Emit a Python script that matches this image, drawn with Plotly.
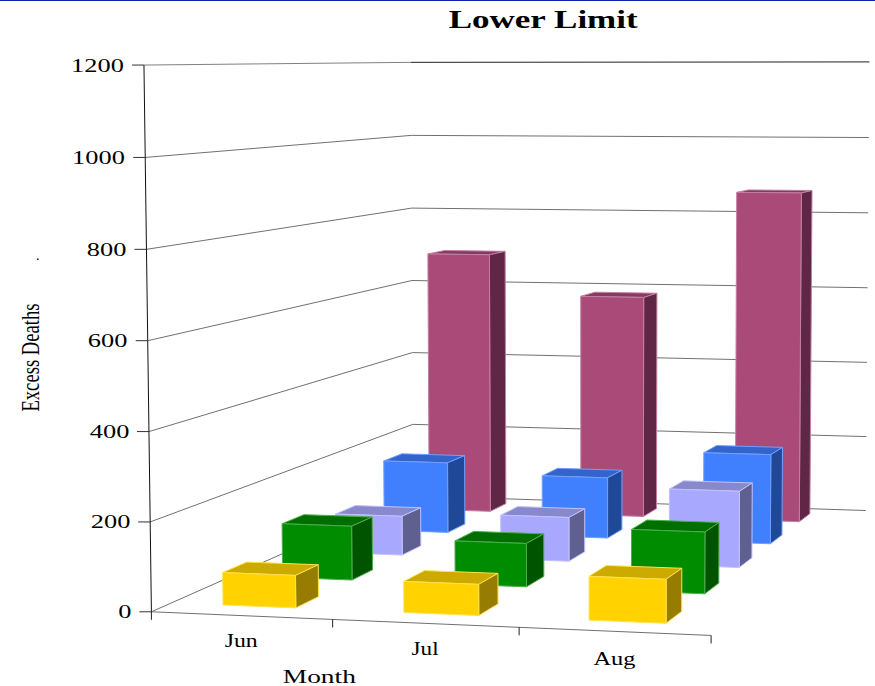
import json

import numpy as np
import plotly.graph_objects as go

# Chart content
months = ["Jun", "Jul", "Aug"]
y_ticks = [0, 200, 400, 600, 800, 1000, 1200]
row_1 = [73, 69, 96]
row_2 = [127, 101, 142]
row_3 = [96, 107, 184]
row_4 = [180, 154, 225]
row_5 = [690, 583, 862]
rows = [row_1, row_2, row_3, row_4, row_5]

# front, top, side and edge colour of each row of bars
front_colors = ["#ffd200", "#008c00", "#a8a8ff", "#4080ff", "#a94a78"]
top_colors = ["#ccaa00", "#006f00", "#8888cc", "#3264cc", "#843a62"]
side_colors = ["#967c00", "#005400", "#606090", "#204899", "#602646"]
edge_colors = ["#ffe24d", "#4cae4c", "#c2c2ff", "#70a0ff", "#c47fa2"]

Z_MAX = 1200.0

# Layout of the bars on the floor, in unit coordinates (x along the months, y into the depth)
MONTH_X = [0.09674, 0.43168, 0.7649]
BAR_W = 0.13583
ROW_Y = [0.06254, 0.26625, 0.46727, 0.66798, 0.87236]
BAR_D = 0.07975
WALL_END = 1.008

# Perspective camera of the 3D chart box
FOCAL = 3365.28
CX, CY = 542.24, 399.46
R2 = np.array([0.02402, -0.09942, -0.99476])
R3 = np.array([-0.24866, 0.96318, -0.10227])
ROT = np.array([np.cross(R2, R3), R2, R3])
TRANS = np.array([-0.68487, 0.37208, 5.8971])
BOX = np.array([1.0, 1.60021, 0.95338])


def project(x, y, value):
    """Map a point of the chart box (x, y in 0..1, value in data units) to the plane."""
    world = np.array([x, y, value / Z_MAX]) * BOX
    cam = ROT @ world + TRANS
    return FOCAL * cam[0] / cam[2] + CX, FOCAL * cam[1] / cam[2] + CY


def path(points):
    xs, ys = zip(*[project(*p) for p in points])
    return list(xs), list(ys)


def polyline_trace(segments, color, width):
    xs, ys = [], []
    for seg in segments:
        sx, sy = path(seg)
        xs += sx + [None]
        ys += sy + [None]
    return go.Scatter(x=xs, y=ys, mode="lines", line=dict(color=color, width=width),
                      hoverinfo="skip", showlegend=False)


def face_trace(polys, fill, edge, texts):
    xs, ys, hover = [], [], []
    for poly, text in zip(polys, texts):
        sx, sy = path(poly + poly[:1])
        xs += sx + [None]
        ys += sy + [None]
        hover += [text] * (len(sx) + 1)
    return go.Scatter(x=xs, y=ys, mode="lines", fill="toself", fillcolor=fill,
                      line=dict(color=edge, width=1), text=hover, hoverinfo="text",
                      showlegend=False)


fig = go.Figure()

# Walls: the left wall and the back wall carry one line per tick
wall_lines = [[(0, 0, v), (0, 1, v), (WALL_END, 1, v)] for v in y_ticks[:-1]]
fig.add_trace(polyline_trace(wall_lines, "#707070", 1))
fig.add_trace(polyline_trace([[(0, 0, Z_MAX), (0, 1, Z_MAX)]], "#808080", 1))
fig.add_trace(polyline_trace([[(0, 1, Z_MAX), (WALL_END, 1, Z_MAX)]], "#222222", 1))
fig.add_trace(polyline_trace([[(0, 0, 0), (1, 0, 0)]], "#707070", 1))

# Value axis at the front left corner, with ticks pointing left
fig.add_trace(polyline_trace([[(0, 0, 0), (0, 0, Z_MAX)]], "#111111", 1))
tick_xs, tick_ys = [], []
for v in y_ticks:
    px, py = project(0, 0, v)
    tick_xs += [px - 12, px, None]
    tick_ys += [py, py, None]
fig.add_trace(go.Scatter(x=tick_xs, y=tick_ys, mode="lines", line=dict(color="#333333", width=1),
                         hoverinfo="skip", showlegend=False))

# Month axis ticks pointing down
mx, my = [], []
for i in range(len(months) + 1):
    px, py = project(i / len(months), 0, 0)
    mx += [px, px, None]
    my += [py, py + 8, None]
fig.add_trace(go.Scatter(x=mx, y=my, mode="lines", line=dict(color="#222222", width=1),
                         hoverinfo="skip", showlegend=False))

# Bars, painted from the back row to the front row
for s in reversed(range(len(rows))):
    tops, sides, fronts, texts = [], [], [], []
    for m, value in enumerate(rows[s]):
        x0, x1 = MONTH_X[m], MONTH_X[m] + BAR_W
        y0, y1 = ROW_Y[s], ROW_Y[s] + BAR_D
        tops.append([(x0, y0, value), (x1, y0, value), (x1, y1, value), (x0, y1, value)])
        sides.append([(x1, y0, 0), (x1, y1, 0), (x1, y1, value), (x1, y0, value)])
        fronts.append([(x0, y0, 0), (x1, y0, 0), (x1, y0, value), (x0, y0, value)])
        texts.append(f"{months[m]}: {value}")
    fig.add_trace(face_trace(tops, top_colors[s], edge_colors[s], texts))
    fig.add_trace(face_trace(sides, side_colors[s], edge_colors[s], texts))
    fig.add_trace(face_trace(fronts, front_colors[s], edge_colors[s], texts))

SERIF = "Liberation Serif"
annotations = []
# Rendered widths of the labels, which use a wide-set serif
text_widths = {}


def label(x, y, text, size, width=None, angle=0, weight="normal"):
    annotations.append(dict(x=x, y=y, text=text, showarrow=False, xref="x", yref="y",
                            xanchor="center", yanchor="middle", textangle=angle,
                            font=dict(family=SERIF, size=size, color="#000000", weight=weight)))
    if width:
        text_widths[text] = width


for v in y_ticks:
    px, py = project(0, 0, v)
    text = str(v)
    w = 13.2 * len(text)
    label(px - 20 - w / 2, py, text, 19.5, width=w)

month_widths = [33, 27, 42]
month_y_offset = [25, 25, 27]
for i, name in enumerate(months):
    px, py = project((i + 0.5) / len(months), 0, 0)
    label(px, py + month_y_offset[i], name, 19, width=month_widths[i])

label(543.5, 19, "Lower Limit", 26, width=189, weight="bold")
label(319.6, 676, "Month", 19, width=73)
label(30, 358, "Excess Deaths", 26, width=108, angle=-90)
label(38, 255, ".", 14)

fig.update_layout(
    width=875, height=686,
    margin=dict(l=0, r=0, t=0, b=0),
    paper_bgcolor="#ffffff", plot_bgcolor="#ffffff",
    showlegend=False,
    annotations=annotations,
    xaxis=dict(range=[0, 875], visible=False, fixedrange=True),
    yaxis=dict(range=[686, 0], visible=False, fixedrange=True),
    shapes=[dict(type="line", xref="paper", yref="paper", x0=0, x1=1, y0=1, y1=1,
                 line=dict(color="#0a22b0", width=2))],
)

# Set the text widths once the labels exist in the page
stretch_labels = (
    "var widths = " + json.dumps(text_widths) + ";"
    "document.querySelectorAll('.annotation-text').forEach(function (t) {"
    "  var w = widths[t.textContent];"
    "  if (w) { t.setAttribute('textLength', w); t.setAttribute('lengthAdjust', 'spacingAndGlyphs'); }"
    "});"
)

fig.write_html("out.html", post_script=stretch_labels)
